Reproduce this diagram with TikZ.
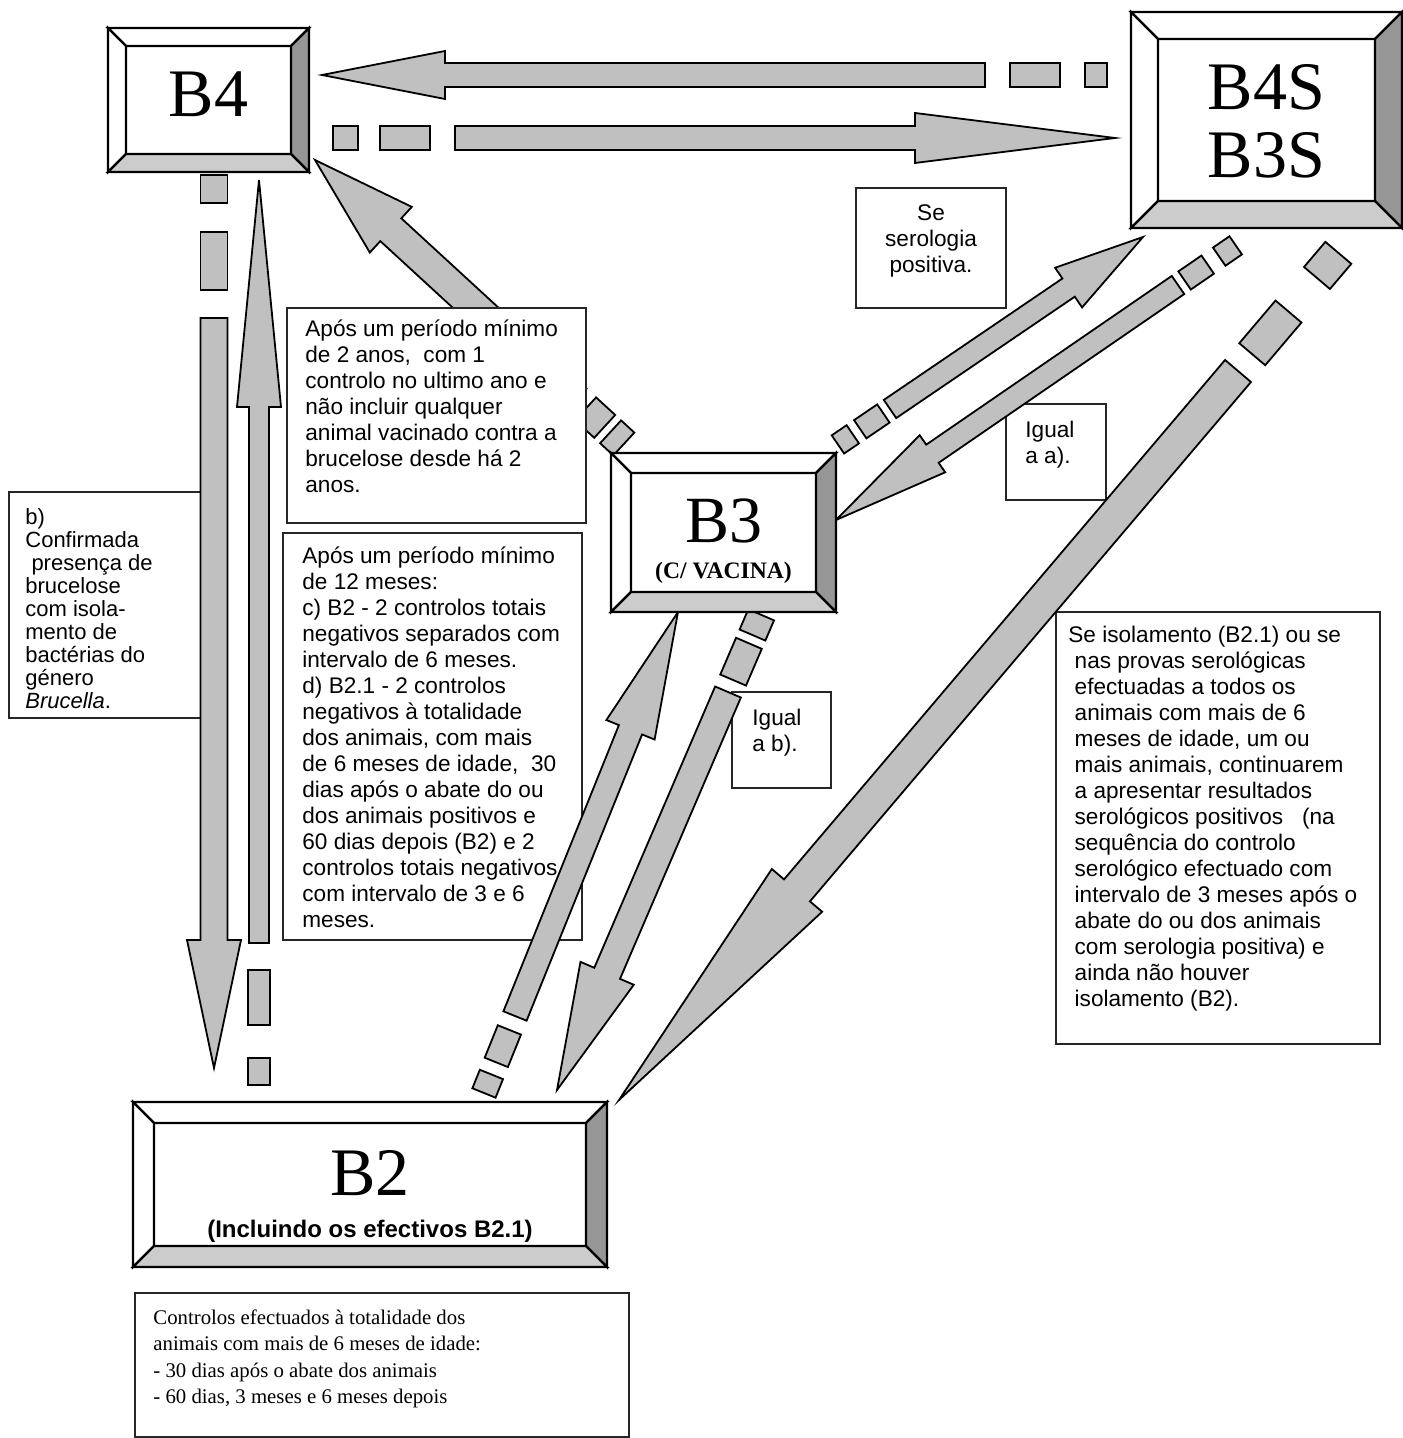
\documentclass[tikz,border=0pt]{standalone}
\usepackage{fontspec}
\setmainfont{Liberation Serif}
\setsansfont{Liberation Sans}
\usetikzlibrary{calc,fit}

\definecolor{arrowgray}{RGB}{192,192,192}
\definecolor{lightface}{RGB}{204,204,204}
\definecolor{darkface}{RGB}{150,150,150}

\tikzset{
  blk/.style={draw=black, fill=arrowgray, line width=0.9pt, line join=miter},
  bevelbox/.style={draw=black, fill=white, line width=1.1pt, inner sep=0pt, outer sep=0pt},
  face/.style={draw=black, line width=1.1pt, line join=miter},
  tbox/.style={draw=black!85, fill=white, line width=0.7pt, inner sep=0pt, outer sep=0pt},
  txt/.style={inner sep=0pt, align=left, anchor=north west, font=\sffamily\fontsize{11.3}{13}\selectfont},
  biglabel/.style={inner sep=0pt, anchor=base, font=\fontsize{34}{34}\selectfont},
}

% block arrow: tail, tip, half shaft, half head, head length
\newcommand\blockarrow[5]{%
  \coordinate (ba-h) at ($(#2)!#5!(#1)$);
  \filldraw[blk] ($(#1)!#3!90:(#2)$) -- ($(ba-h)!#3!90:(#2)$) -- ($(ba-h)!#4!90:(#2)$)
    -- (#2) -- ($(ba-h)!#4!-90:(#2)$) -- ($(ba-h)!#3!-90:(#2)$) -- ($(#1)!#3!-90:(#2)$) -- cycle;
}
% dash behind the tail: tail, tip, from, to, half width
\newcommand\tailbit[5]{%
  \coordinate (tb-p) at ($(#1)!-#3!(#2)$);
  \coordinate (tb-q) at ($(#1)!-#4!(#2)$);
  \filldraw[blk] ($(tb-p)!#5!90:(#2)$) -- ($(tb-q)!#5!90:(#2)$) -- ($(tb-q)!#5!-90:(#2)$) -- ($(tb-p)!#5!-90:(#2)$) -- cycle;
}
% bevel faces of a state box
\newcommand\bevelfaces[2]{%
  \coordinate (#1-a) at ($(#1.north west)+(#2,#2)$);
  \coordinate (#1-b) at ($(#1.north east)+(-#2,#2)$);
  \coordinate (#1-c) at ($(#1.south east)+(-#2,-#2)$);
  \coordinate (#1-d) at ($(#1.south west)+(#2,-#2)$);
  \filldraw[face, fill=white] (#1.north west) -- (#1.north east) -- (#1-b) -- (#1-a) -- cycle;
  \filldraw[face, fill=white] (#1.north west) -- (#1-a) -- (#1-d) -- (#1.south west) -- cycle;
  \filldraw[face, fill=darkface] (#1.north east) -- (#1.south east) -- (#1-c) -- (#1-b) -- cycle;
  \filldraw[face, fill=lightface] (#1.south west) -- (#1-d) -- (#1-c) -- (#1.south east) -- cycle;
}

\begin{document}
\begin{tikzpicture}[x=0.5pt,y=-0.5pt]
\useasboundingbox (0,0) rectangle (1402,1438);

% arrow ends
\coordinate (b4s2b4-a) at (985,75);   \coordinate (b4s2b4-b) at (322,75);
\coordinate (b42b4s-a) at (455,138);  \coordinate (b42b4s-b) at (1115,138);
\coordinate (b42b2-a) at (214,318);   \coordinate (b42b2-b) at (214,1068);
\coordinate (b22b4-a) at (259,943);   \coordinate (b22b4-b) at (259,180);
\coordinate (b32b4-a) at (576,400);   \coordinate (b32b4-b) at (315,160);
\coordinate (b32b4s-a) at (890,409);  \coordinate (b32b4s-b) at (1143,237);
\coordinate (b4s2b3-a) at (1178,285); \coordinate (b4s2b3-b) at (836,520);
\coordinate (b4s2b2-a) at (1238,371); \coordinate (b4s2b2-b) at (619,1100);
\coordinate (b22b3-a) at (515,1016);  \coordinate (b22b3-b) at (678,612);
\coordinate (b32b2-a) at (728,692);   \coordinate (b32b2-b) at (557,1090);

% B3 -> B4, under the note
\blockarrow{b32b4-a}{b32b4-b}{7.75pt}{15.5pt}{51.5pt}
\tailbit{b32b4-a}{b32b4-b}{6.5pt}{19.5pt}{7.75pt}
\tailbit{b32b4-a}{b32b4-b}{23.5pt}{32.5pt}{7.75pt}

% notes
\node[tbox, fit={(287,308) (586,523)}] (twoyears) {};
\node[txt] (twoyears-txt) at ($(twoyears.north west)+(18,11)$)
  {Após um período mínimo\\de 2 anos,\ \ com 1\\controlo no ultimo ano e\\não incluir qualquer\\animal vacinado contra a\\brucelose desde há 2\\anos.};

\node[tbox, fit={(283,533) (582,940)}] (twelvemonths) {};
\node[txt] (twelvemonths-txt) at ($(twelvemonths.north west)+(19,13)$)
  {Após um período mínimo\\de 12 meses:\\c) B2 - 2 controlos totais\\negativos separados com\\intervalo de 6 meses.\\d) B2.1 - 2 controlos\\negativos à totalidade\\dos animais, com mais\\de 6 meses de idade,\ \ 30\\dias após o abate do ou\\dos animais positivos e\\60 dias depois (B2) e 2\\controlos totais negativos\\com intervalo de 3 e 6\\meses.};

\node[tbox, fit={(9,492) (202,718)}] (isol) {};
\node[txt, font=\sffamily\fontsize{11}{11.5}\selectfont] (isol-txt) at ($(isol.north west)+(16,16)$)
  {b)\\Confirmada\\~presença de\\brucelose\\com isola-\\mento de\\bactérias do\\género\\\textit{Brucella}.};

\node[tbox, fit={(1056,612) (1380,1044)}] (stay) {};
\node[txt] (stay-txt) at ($(stay.north west)+(12,14)$)
  {Se isolamento (B2.1) ou se\\~nas provas serológicas\\~efectuadas a todos os\\~animais com mais de 6\\~meses de idade, um ou\\~mais animais, continuarem\\~a apresentar resultados\\~serológicos positivos\ \ \ (na\\~sequência do controlo\\~serológico efectuado com\\~intervalo de 3 meses após o\\~abate do ou dos animais\\~com serologia positiva) e\\~ainda não houver\\~isolamento (B2).};

\node[tbox, fit={(856,188) (1006,308)}] (sero) {};
\node[txt, align=center, anchor=north] (sero-txt) at ($(sero.north)+(0,16)$)
  {Se\\serologia\\positiva.};

\node[tbox, fit={(1006,404) (1106,500)}] (likea) {};
\node[txt] (likea-txt) at ($(likea.north west)+(19,17)$) {Igual\\a a).};

\node[tbox, fit={(732,692) (831,788)}] (likeb) {};
\node[txt] (likeb-txt) at ($(likeb.north west)+(20,17)$) {Igual\\a b).};

\node[tbox, fit={(135,1293) (629,1437)}] (checks) {};
\node[txt, font=\fontsize{10.4}{13.25}\selectfont] (checks-txt) at ($(checks.north west)+(18,16)$)
  {Controlos efectuados à totalidade dos\\animais com mais de 6 meses de idade:\\- 30 dias após o abate dos animais\\- 60 dias, 3 meses e 6 meses depois};

% arrows
\blockarrow{b4s2b4-a}{b4s2b4-b}{6pt}{12pt}{61.5pt}
\tailbit{b4s2b4-a}{b4s2b4-b}{12.5pt}{37.5pt}{6pt}
\tailbit{b4s2b4-a}{b4s2b4-b}{50pt}{61pt}{6pt}

\blockarrow{b42b4s-a}{b42b4s-b}{6pt}{12.5pt}{100pt}
\tailbit{b42b4s-a}{b42b4s-b}{12.5pt}{37.5pt}{6pt}
\tailbit{b42b4s-a}{b42b4s-b}{48.5pt}{61pt}{6pt}

\blockarrow{b42b2-a}{b42b2-b}{6.75pt}{13.5pt}{64pt}
\tailbit{b42b2-a}{b42b2-b}{14pt}{43pt}{6.75pt}
\tailbit{b42b2-a}{b42b2-b}{57.5pt}{71.5pt}{6.75pt}

\blockarrow{b22b4-a}{b22b4-b}{5pt}{11pt}{113.5pt}
\tailbit{b22b4-a}{b22b4-b}{13.5pt}{41pt}{5.5pt}
\tailbit{b22b4-a}{b22b4-b}{57.5pt}{71pt}{5.5pt}

\blockarrow{b32b4s-a}{b32b4s-b}{5.5pt}{12pt}{45pt}
\tailbit{b32b4s-a}{b32b4s-b}{4pt}{18pt}{5.5pt}
\tailbit{b32b4s-a}{b32b4s-b}{22.5pt}{31.5pt}{5.5pt}

\blockarrow{b4s2b3-a}{b4s2b3-b}{5.5pt}{11.25pt}{58.5pt}
\tailbit{b4s2b3-a}{b4s2b3-b}{4pt}{18pt}{5.5pt}
\tailbit{b4s2b3-a}{b4s2b3-b}{25pt}{35pt}{5.5pt}

\blockarrow{b4s2b2-a}{b4s2b2-b}{8.5pt}{16.5pt}{137.5pt}
\tailbit{b4s2b2-a}{b4s2b2-b}{11pt}{39pt}{8.5pt}
\tailbit{b4s2b2-a}{b4s2b2-b}{61pt}{77.5pt}{8.5pt}

\blockarrow{b22b3-a}{b22b3-b}{6.25pt}{13pt}{63.5pt}
\tailbit{b22b3-a}{b22b3-b}{7.5pt}{25pt}{6.25pt}
\tailbit{b22b3-a}{b22b3-b}{31.5pt}{41.5pt}{6.25pt}

\blockarrow{b32b2-a}{b32b2-b}{7pt}{14.5pt}{63.5pt}
\tailbit{b32b2-a}{b32b2-b}{6.5pt}{26.5pt}{7pt}
\tailbit{b32b2-a}{b32b2-b}{31pt}{42pt}{7pt}

% states
\node[bevelbox, fit={(108,28) (309,172)}] (b4) {};
\bevelfaces{b4}{18}
\node[biglabel] (b4-lbl) at ($(b4.center)+(0,17)$) {B4};

\node[bevelbox, fit={(1131,12) (1402,228)}] (b4s) {};
\bevelfaces{b4s}{27}
\node[biglabel] (b4s-lbl) at ($(b4s.center)+(0,-10)$) {B4S};
\node[biglabel] (b3s-lbl) at ($(b4s.center)+(0,58)$) {B3S};

\node[bevelbox, fit={(611,453) (836,612)}] (b3) {};
\bevelfaces{b3}{20}
\node[biglabel, font=\fontsize{33}{33}\selectfont] (b3-lbl) at ($(b3.center)+(0,9.5)$) {B3};
\node[biglabel, font=\bfseries\fontsize{11.8}{11.8}\selectfont] (b3-sub) at ($(b3.center)+(0,45.5)$) {(C/ VACINA)};

\node[bevelbox, fit={(133,1102) (607,1267)}] (b2) {};
\bevelfaces{b2}{21}
\node[biglabel] (b2-lbl) at ($(b2.center)+(0,10.5)$) {B2};
\node[biglabel, font=\sffamily\bfseries\fontsize{12}{12}\selectfont] (b2-sub) at ($(b2.center)+(0,52.5)$) {(Incluindo os efectivos B2.1)};
\end{tikzpicture}
\end{document}
